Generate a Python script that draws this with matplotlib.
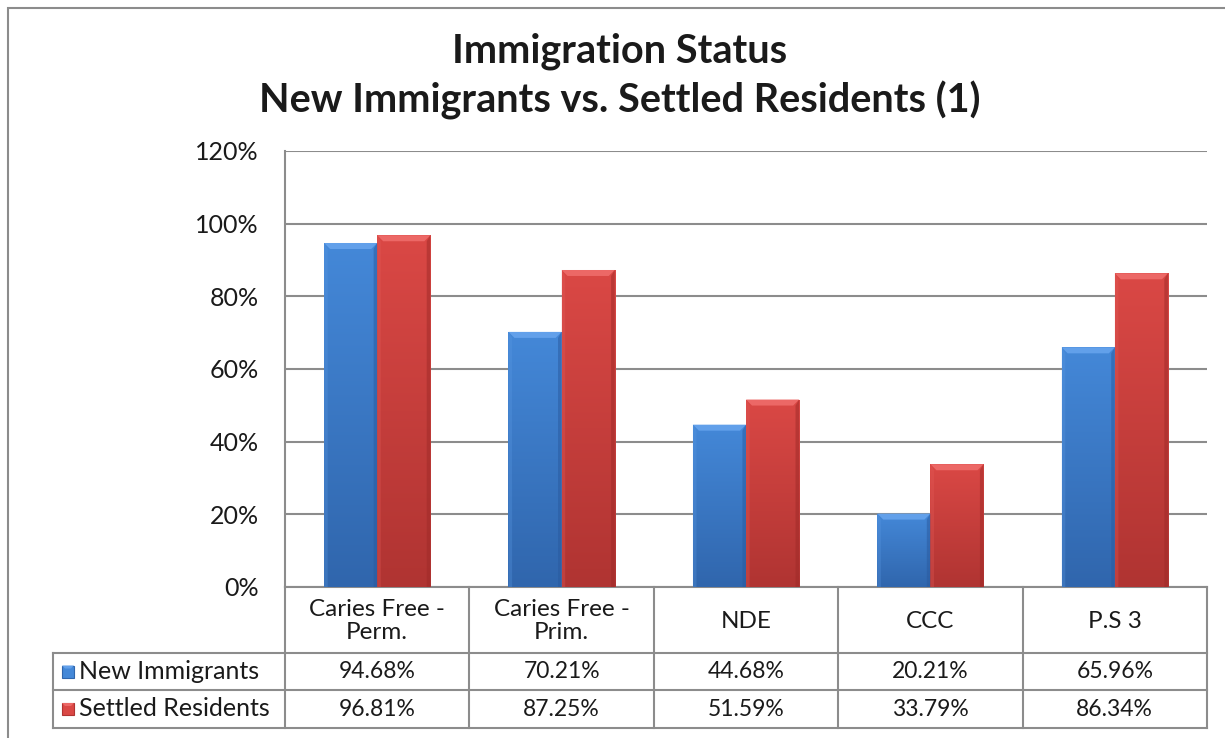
import matplotlib
matplotlib.use('Agg')
import matplotlib.pyplot as plt
import numpy as np
from matplotlib.patches import Polygon, Rectangle
from matplotlib.lines import Line2D
from matplotlib.colors import LinearSegmentedColormap

categories = ["Caries Free -\nPerm.", "Caries Free -\nPrim.", "NDE", "CCC", "P.S 3"]
series_names = ["New Immigrants", "Settled Residents"]
new_immigrants = [94.68, 70.21, 44.68, 20.21, 65.96]
settled_residents = [96.81, 87.25, 51.59, 33.79, 86.34]
y_ticks = [0, 20, 40, 60, 80, 100, 120]
title_lines = ["Immigration Status", "New Immigrants vs. Settled Residents (1)"]

FONT = "Lato"
plt.rcParams['font.family'] = [FONT, 'DejaVu Sans']

W, H = 1225, 738
fig = plt.figure(figsize=(W / 100, H / 100), dpi=100)
fig.patch.set_facecolor('white')


def fx(x):
    return x / W


def fy(y):
    return 1 - y / H


GRID = '#8c8c8c'
TXT = '#1a1a1a'

# outer border
fig.add_artist(Rectangle((fx(8), fy(760)), fx(1240) - fx(8), fy(8) - fy(760),
                         transform=fig.transFigure, fill=False, edgecolor=GRID, lw=1.5))

# title
fig.text(fx(620), fy(51), title_lines[0], ha='center', va='center', fontsize=28.5,
         fontweight='bold', color=TXT)
fig.text(fx(620), fy(100), title_lines[1], ha='center', va='center', fontsize=28.5,
         fontweight='bold', color=TXT)

L, R, T, B = 285, 1207, 151, 587
ax = fig.add_axes([fx(L), fy(B), fx(R) - fx(L), fy(T) - fy(B)])

n = len(categories)
x = np.arange(n)
bw = 0.288

series = [new_immigrants, settled_residents]
palettes = [
    dict(top='#62a0ea', light='#4488d8', dark='#3066ad', right='#2a5a9e', left='#5a98e2'),
    dict(top='#ec6866', light='#da4845', dark='#b03432', right='#9e2a28', left='#e45d5a'),
]

ax.set_xlim(-0.5, n - 0.5)
ax.set_ylim(0, 120)

px_x = n / (R - L)
px_y = 120 / (B - T)
dpx = 6
dx, dy = dpx * px_x, dpx * px_y

for si, (vals, pal) in enumerate(zip(series, palettes)):
    offs = -bw / 2 if si == 0 else bw / 2
    bars = ax.bar(x + offs, vals, bw, color=pal['light'], edgecolor='none', zorder=3)
    cmap = LinearSegmentedColormap.from_list('g', [pal['dark'], pal['light']])
    for p in bars:
        x0 = p.get_x()
        x1 = x0 + p.get_width()
        h = p.get_height()
        grad = np.linspace(0, 1, 100).reshape(-1, 1)
        im = ax.imshow(grad, extent=[x0, x1, 0, h], origin='lower', cmap=cmap,
                       aspect='auto', zorder=4, interpolation='bilinear')
        im.set_clip_path(p)
        ax.add_patch(Polygon([(x0, h), (x1, h), (x1 - dx, h - dy), (x0 + dx, h - dy)],
                             closed=True, facecolor=pal['top'], edgecolor='none', zorder=5))
        ax.add_patch(Polygon([(x1, h), (x1 - dx * 0.6, h - dy), (x1 - dx * 0.6, 0), (x1, 0)],
                             closed=True, facecolor=pal['right'], edgecolor='none', alpha=0.5, zorder=5))
        ax.add_patch(Polygon([(x0, h), (x0 + dx * 0.6, h - dy), (x0 + dx * 0.6, 0), (x0, 0)],
                             closed=True, facecolor=pal['left'], edgecolor='none', alpha=0.3, zorder=5))

ax.set_xlim(-0.5, n - 0.5)
ax.set_ylim(0, 120)
ax.set_yticks(y_ticks)
ax.set_yticklabels([f"{t}%" for t in y_ticks], fontsize=18, color=TXT)
ax.tick_params(axis='y', length=0, pad=19)
ax.set_xticks([])
ax.grid(axis='y', color=GRID, lw=1.5, zorder=1)
ax.set_axisbelow(True)
for s in ['top', 'right']:
    ax.spines[s].set_visible(False)
ax.spines['left'].set_color(GRID)
ax.spines['left'].set_linewidth(1.5)
ax.spines['bottom'].set_color(GRID)
ax.spines['bottom'].set_linewidth(1.5)

# data table below the axes
fig.canvas.draw()
to_px = lambda xd: ax.transData.transform((xd, 0))[0]
col_edges = [to_px(i - 0.5) for i in range(n + 1)]
col_centers = [to_px(i) for i in range(n)]
H_top, H_bot = 587, 653
R1_bot, R2_bot = 690, 728
LEG_L = 53


def hline(y, x0, x1):
    fig.add_artist(Line2D([x0 / W, x1 / W], [fy(y), fy(y)], transform=fig.transFigure,
                          color=GRID, lw=1.5))


def vline(xp, y0, y1):
    fig.add_artist(Line2D([xp / W, xp / W], [fy(y0), fy(y1)], transform=fig.transFigure,
                          color=GRID, lw=1.5))


for e in col_edges:
    vline(e, H_top, R2_bot)
vline(LEG_L, H_bot, R2_bot)
for yy in [H_bot, R1_bot, R2_bot]:
    hline(yy, LEG_L, col_edges[-1])

for c, lab in zip(col_centers, categories):
    fig.text(c / W, fy((H_top + H_bot) / 2 + 1), lab, ha='center', va='center',
             fontsize=17.5, color=TXT, linespacing=1.15)

row_mid = [(H_bot + R1_bot) / 2, (R1_bot + R2_bot) / 2]
for ri, (vals, name, pal) in enumerate(zip(series, series_names, palettes)):
    ym = row_mid[ri]
    for c, v in zip(col_centers, vals):
        fig.text(c / W, fy(ym), f"{v:.2f}%", ha='center', va='center', fontsize=16.5, color=TXT)
    # legend key
    sq = 12
    fig.add_artist(Rectangle((fx(62), fy(ym + sq / 2)), sq / W, sq / H, transform=fig.transFigure,
                             facecolor=pal['light'], edgecolor=pal['dark'], lw=0.8))
    fig.add_artist(Polygon([(fx(62), fy(ym - sq / 2)), (fx(62 + sq), fy(ym - sq / 2)),
                            (fx(62 + sq - 3), fy(ym - sq / 2 + 3)), (fx(65), fy(ym - sq / 2 + 3))],
                           closed=True, transform=fig.transFigure, facecolor=pal['top'], edgecolor='none'))
    fig.text(fx(79), fy(ym), name, ha='left', va='center', fontsize=18, color=TXT)

fig.savefig('out.png', dpi=100, facecolor='white')
